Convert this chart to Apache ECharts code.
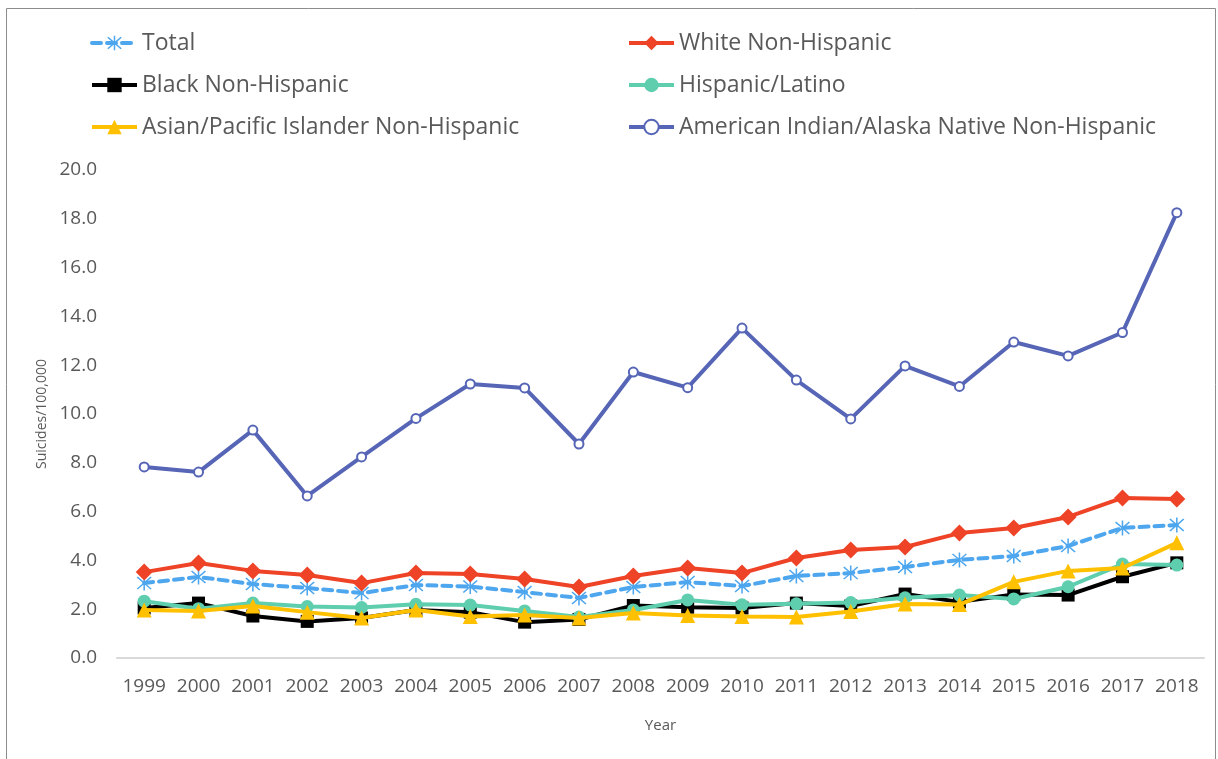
<!DOCTYPE html>
<html>
<head>
<meta charset="utf-8">
<script src="https://cdn.jsdelivr.net/npm/echarts@6/dist/echarts.min.js"></script>
<style>
html,body{margin:0;padding:0;background:#fff;}
#chart{width:1218px;height:759px;}
</style>
</head>
<body>
<div id="chart"></div>
<script>
var years = ['1999','2000','2001','2002','2003','2004','2005','2006','2007','2008','2009','2010','2011','2012','2013','2014','2015','2016','2017','2018'];
var total    = [3.07,3.32,3.03,2.87,2.66,2.99,2.93,2.70,2.46,2.91,3.11,2.95,3.36,3.48,3.73,4.02,4.18,4.59,5.33,5.45];
var white    = [3.52,3.89,3.57,3.40,3.07,3.48,3.44,3.24,2.91,3.36,3.69,3.48,4.10,4.43,4.55,5.12,5.33,5.78,6.56,6.52];
var black    = [2.05,2.25,1.72,1.50,1.64,1.97,1.88,1.47,1.58,2.15,2.08,2.05,2.25,2.13,2.62,2.30,2.60,2.58,3.33,3.90];
var hispanic = [2.33,2.02,2.25,2.11,2.07,2.20,2.17,1.93,1.68,1.97,2.38,2.18,2.22,2.27,2.47,2.58,2.42,2.92,3.85,3.81];
var asian    = [1.97,1.93,2.13,1.88,1.64,1.97,1.70,1.76,1.64,1.84,1.74,1.70,1.68,1.91,2.21,2.19,3.12,3.57,3.69,4.72];
var aian     = [7.83,7.62,9.34,6.64,8.24,9.82,11.23,11.07,8.77,11.72,11.08,13.52,11.39,9.80,11.97,11.13,12.95,12.38,13.34,18.25];
var yTicks   = ['0.0','2.0','4.0','6.0','8.0','10.0','12.0','14.0','16.0','18.0','20.0'];

var names = ['Total','White Non-Hispanic','Black Non-Hispanic','Hispanic/Latino','Asian/Pacific Islander Non-Hispanic','American Indian/Alaska Native Non-Hispanic'];
var colors = ['#4EA7EE','#EE4326','#000000','#5ECEAE','#FFC000','#5665B6'];

var asterisk = 'path://M9.1,0 L10.9,0 L10.9,20 L9.1,20 Z M1.3,2.6 L2.6,1.3 L18.7,17.4 L17.4,18.7 Z M17.4,1.3 L18.7,2.6 L2.6,18.7 L1.3,17.4 Z';

var txt = '#595959';
var font = 'Open Sans';

function mk(i, data, symbol, size, extra) {
  var s = {
    name: names[i], type: 'line', data: data,
    symbol: symbol, symbolSize: size,
    lineStyle: { color: colors[i], width: 4 },
    itemStyle: { color: colors[i] },
    emphasis: { disabled: true },
    z: 2 + i, animation: false
  };
  if (extra) extra(s);
  return s;
}

function legItem(i) {
  return { name: names[i], lineStyle: { width: 4 } };
}

var chart = echarts.init(document.getElementById('chart'), null, { renderer: 'canvas' });

var legendBase = {
  orient: 'vertical',
  itemWidth: 45, itemHeight: 18, itemGap: 18,
  lineStyle: { width: 4 },
  textStyle: { fontFamily: font, fontSize: 23, color: txt, lineHeight: 24, padding: [0,0,0,0] },
  selectedMode: false
};

chart.setOption({
  backgroundColor: '#fff',
  animation: false,
  graphic: [{
    type: 'rect', shape: { x: 6.5, y: 8.5, width: 1209, height: 760 },
    style: { fill: null, stroke: '#8c8c8c', lineWidth: 1 }, silent: true, z: -1
  }],
  legend: [
    Object.assign({}, legendBase, { left: 85, top: 26, data: [legItem(0), legItem(2), legItem(4)] }),
    Object.assign({}, legendBase, { left: 622, top: 26, data: [legItem(1), legItem(3), legItem(5)] })
  ],
  grid: { left: 117, right: 14, top: 170, bottom: 101, containLabel: false },
  xAxis: {
    type: 'category', data: years, boundaryGap: true,
    name: 'Year', nameLocation: 'middle', nameGap: 60,
    nameTextStyle: { fontFamily: font, fontSize: 15, color: txt },
    axisLine: { show: true, lineStyle: { color: '#d9d9d9', width: 2 } },
    axisTick: { show: false },
    axisLabel: { fontFamily: font, fontSize: 19, color: txt, margin: 19, interval: 0 }
  },
  yAxis: {
    type: 'value', min: 0, max: 20, interval: 2,
    name: 'Suicides/100,000', nameLocation: 'middle', nameGap: 68,
    nameTextStyle: { fontFamily: font, fontSize: 14, color: txt },
    axisLine: { show: false }, axisTick: { show: false },
    splitLine: { show: false },
    axisLabel: { fontFamily: font, fontSize: 19, color: txt, margin: 20,
      formatter: function (v) { return yTicks[Math.round(v / 2)]; } }
  },
  series: [
    mk(0, total, asterisk, 15, function (s) { s.lineStyle.type = [9, 6]; s.lineStyle.cap = 'round'; }),
    mk(1, white, 'diamond', 17),
    mk(2, black, 'rect', 13),
    mk(3, hispanic, 'circle', 13),
    mk(4, asian, 'triangle', 15),
    mk(5, aian, 'emptyCircle', 9, function (s) { s.itemStyle = { color: colors[5], borderColor: colors[5], borderWidth: 1.5 }; })
  ]
});
</script>
</body>
</html>
